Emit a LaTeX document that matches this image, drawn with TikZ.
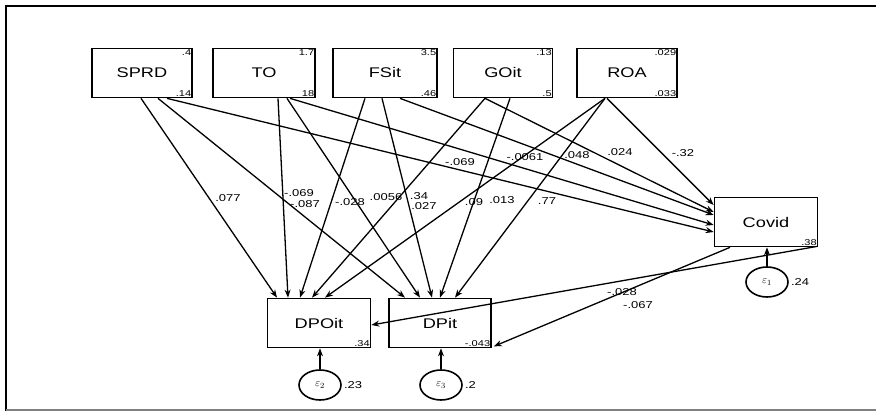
\documentclass[tikz,border=0pt]{standalone}
\usepackage{fontspec}
\setmainfont{Liberation Sans}
\usepackage{graphicx}
\usetikzlibrary{arrows.meta,shapes.geometric}
\newcommand{\hs}[1]{\scalebox{1.3}[1]{#1}}
\begin{document}
\begin{tikzpicture}[x=1pt,y=-1pt,
  var/.style={draw, line width=1.7pt, minimum height=49pt, inner sep=0pt, font=\fontsize{14}{14}\selectfont},
  err/.style={draw, ellipse, line width=1.6pt, minimum width=42pt, minimum height=30pt, inner sep=0pt, font=\fontsize{11}{11}\selectfont},
  pth/.style={-{Stealth[length=8pt,width=6pt]}, line width=1.3pt},
  coef/.style={inner sep=0pt, font=\fontsize{10}{10}\selectfont},
  cnum/.style={inner sep=1.5pt, font=\fontsize{8.5}{8.5}\selectfont}]
\useasboundingbox (0,0) rectangle (876,411);
\draw[line width=2pt] (6,411) -- (6,6) -- (876,6);
\draw[gray, line width=1.5pt] (6,410) -- (876,410);

% variables
\node[var, minimum width=100pt] (SPRD) at (142,73) {\hs{SPRD}};
\node[var, minimum width=102pt] (TO) at (264,73) {\hs{TO}};
\node[var, minimum width=104pt] (FSit) at (385,73) {\hs{FSit}};
\node[var, minimum width=99pt] (GOit) at (503,73) {\hs{GOit}};
\node[var, minimum width=100pt] (ROA) at (627,73) {\hs{ROA}};
\node[var, minimum width=103pt] (Covid) at (766,222) {\hs{Covid}};
\node[var, minimum width=103pt] (DPOit) at (319,323) {\hs{DPOit}};
\node[var, minimum width=102pt] (DPit) at (440,323) {\hs{DPit}};

% corner numbers
\node[cnum, anchor=north east] (sprdA) at (SPRD.north east) {\hs{.4}};
\node[cnum, anchor=south east] (sprdB) at (SPRD.south east) {\hs{.14}};
\node[cnum, anchor=north east] (toA) at (TO.north east) {\hs{1.7}};
\node[cnum, anchor=south east] (toB) at (TO.south east) {\hs{18}};
\node[cnum, anchor=north east] (fsA) at (FSit.north east) {\hs{3.5}};
\node[cnum, anchor=south east] (fsB) at (FSit.south east) {\hs{.46}};
\node[cnum, anchor=north east] (goA) at (GOit.north east) {\hs{.13}};
\node[cnum, anchor=south east] (goB) at (GOit.south east) {\hs{.5}};
\node[cnum, anchor=north east] (roaA) at (ROA.north east) {\hs{.029}};
\node[cnum, anchor=south east] (roaB) at (ROA.south east) {\hs{.033}};
\node[cnum, anchor=south east] (covB) at (Covid.south east) {\hs{.38}};
\node[cnum, anchor=south east] (dpoB) at (DPOit.south east) {\hs{.34}};
\node[cnum, anchor=south east] (dpB) at (DPit.south east) {\hs{-.043}};

% errors
\node[err] (e1) at (767,282) {$\varepsilon_{1}$};
\node[err] (e2) at (320,385) {$\varepsilon_{2}$};
\node[err] (e3) at (441,385) {$\varepsilon_{3}$};
\node[coef, anchor=west] (e1v) at ([xshift=2pt]e1.east) {\hs{.24}};
\node[coef, anchor=west] (e2v) at ([xshift=2pt]e2.east) {\hs{.23}};
\node[coef, anchor=west] (e3v) at ([xshift=2pt]e3.east) {\hs{.2}};
\draw[pth] (e1) -- (e1 |- Covid.south);
\draw[pth] (e2) -- (e2 |- DPOit.south);
\draw[pth] (e3) -- (e3 |- DPit.south);

% paths from SPRD
\draw[pth] ([xshift=-1pt]SPRD.south) -- ([xshift=-42pt]DPOit.north);
\draw[pth] ([xshift=16pt]SPRD.south) -- ([xshift=-35pt]DPit.north);
\draw[pth] ([xshift=25pt]SPRD.south) -- ([yshift=-10pt]Covid.west);
% paths from TO
\draw[pth] ([xshift=14pt]TO.south) -- ([xshift=-31pt]DPOit.north);
\draw[pth] ([xshift=23pt]TO.south) -- ([xshift=-20pt]DPit.north);
\draw[pth] ([xshift=26pt]TO.south) -- ([yshift=-3pt]Covid.west);
% paths from FSit
\draw[pth] ([xshift=-20pt]FSit.south) -- ([xshift=-19pt]DPOit.north);
\draw[pth] ([xshift=-3pt]FSit.south) -- ([xshift=-8pt]DPit.north);
\draw[pth] ([xshift=15pt]FSit.south) -- ([yshift=7pt]Covid.west);
% paths from GOit
\draw[pth] ([xshift=-18pt]GOit.south) -- ([xshift=-7pt]DPOit.north);
\draw[pth] ([xshift=7pt]GOit.south) -- ([xshift=0pt]DPit.north);
\draw[pth] ([xshift=-18pt]GOit.south) -- ([yshift=10pt]Covid.west);
% paths from ROA
\draw[pth] ([xshift=-22pt]ROA.south) -- ([xshift=6pt]DPOit.north);
\draw[pth] ([xshift=-22pt]ROA.south) -- ([xshift=15pt]DPit.north);
\draw[pth] ([xshift=-20pt]ROA.south) -- ([yshift=17pt]Covid.west);
% paths from Covid
\draw[pth] ([xshift=-1pt,yshift=1pt]Covid.south east) -- ([yshift=-2pt]DPOit.east);
\draw[pth] ([xshift=-36pt]Covid.south) -- ([xshift=2pt,yshift=2pt]DPit.south east);

% coefficients
\node[coef] (c1) at (228,198) {\hs{.077}};
\node[coef] (c2) at (299,193) {\hs{-.069}};
\node[coef] (c3) at (305,204) {\hs{-.087}};
\node[coef] (c4) at (350,202) {\hs{-.028}};
\node[coef] (c5) at (386,197) {\hs{.0056}};
\node[coef] (c6) at (419,196) {\hs{.34}};
\node[coef] (c7) at (424,206) {\hs{.027}};
\node[coef] (c8) at (474,202) {\hs{.09}};
\node[coef] (c9) at (502,200) {\hs{.013}};
\node[coef] (c10) at (547,201) {\hs{.77}};
\node[coef] (c11) at (460,162) {\hs{-.069}};
\node[coef] (c12) at (525,157) {\hs{-.0061}};
\node[coef] (c13) at (577,155) {\hs{.048}};
\node[coef] (c14) at (620,152) {\hs{.024}};
\node[coef] (c15) at (683,153) {\hs{-.32}};
\node[coef] (c16) at (622,292) {\hs{-.028}};
\node[coef] (c17) at (638,305) {\hs{-.067}};
\end{tikzpicture}
\end{document}
